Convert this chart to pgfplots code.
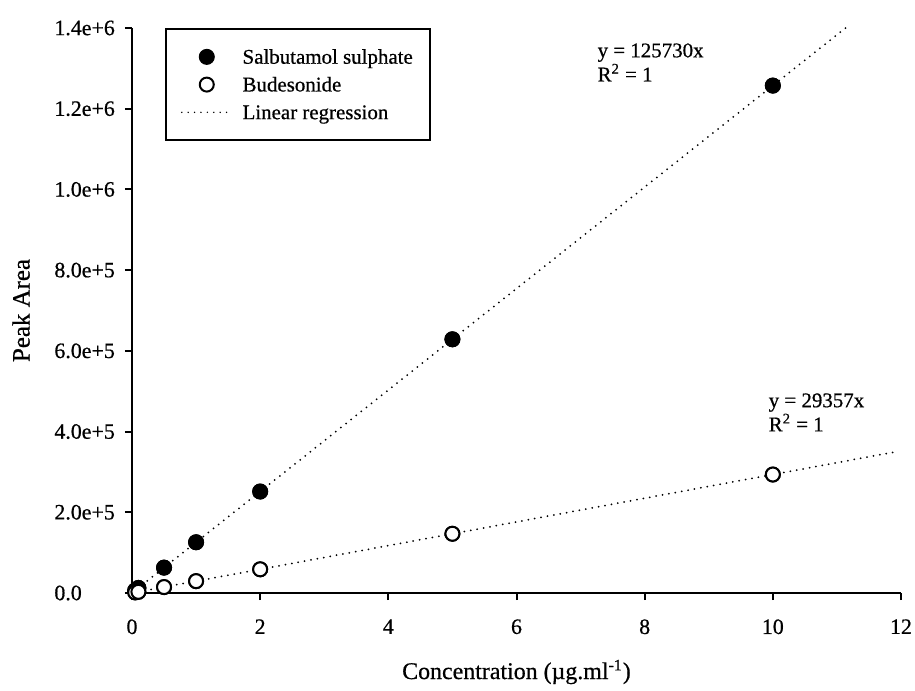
\documentclass[border=0pt]{standalone}
\usepackage{fontspec}
\setmainfont{Liberation Serif}[FakeBold=0.6]
\usepackage{pgfplots}
\pgfplotsset{compat=1.18}
\pgfplotsset{
  legmark/.style={legend image code/.code={\draw[##1] plot coordinates {(12.5bp,0bp)};}},
  legline/.style={legend image code/.code={\draw[##1] (0bp,0bp) -- (24bp,0bp);}},
}
\begin{document}
\begin{tikzpicture}
\useasboundingbox (-66bp,-49bp) rectangle (391.5bp,296.5bp);
\begin{axis}[
  scale only axis,
  width=384.5bp, height=282.5bp,
  xmin=0, xmax=12, ymin=0, ymax=1.4e6,
  clip=false,
  axis lines*=left,
  axis line style={-, line width=1bp, black},
  tick style={line width=1bp, black},
  major tick length=3.5bp,
  tick align=outside,
  xtick pos=bottom, ytick pos=left,
  xtick={0,2,4,6,8,10,12},
  ytick={0,200000,400000,600000,800000,1000000,1200000,1400000},
  yticklabels={0.0,2.0e+5,4.0e+5,6.0e+5,8.0e+5,1.0e+6,1.2e+6,1.4e+6},
  scaled y ticks=false,
  /pgf/number format/assume math mode=true,
  ticklabel style={font=\fontsize{11}{13}\selectfont},
  yticklabel style={anchor=west, inner sep=0pt, xshift=-35.5bp},
  xticklabel style={inner sep=0pt, yshift=-9.5bp},
  xlabel={Concentration (µg.ml\textsuperscript{-1})},
  ylabel={Peak Area},
  xlabel style={font=\fontsize{12}{14}\selectfont, at={(axis description cs:0.5,0)}, anchor=center, yshift=-39.5bp},
  ylabel style={font=\fontsize{12.5}{14}\selectfont, at={(axis description cs:-0.1443,0.5)}, anchor=center},
  legend style={at={(0.0429,1.0)}, anchor=north west, draw=black, line width=1bp,
    font=\fontsize{10.5}{12}\selectfont, inner xsep=7.5bp, inner ysep=8bp, row sep=2bp,
    column sep=5bp, nodes={inner sep=1bp},
    cells={anchor=west}},
  legend cell align=left,
  regline/.style={line width=1bp, line cap=round, dash pattern=on 0pt off 3.25bp, black},
]
\addplot[only marks, mark=*, mark size=3.75bp, mark options={fill=black, draw=black, line width=0.5bp}, legmark]
  coordinates {(0.05,6287) (0.1,12573) (0.5,62865) (1,125730) (2,251460) (5,628650) (10,1257300)};
\addlegendentry{\strut Salbutamol sulphate}
\addplot[only marks, mark=*, mark size=3.5bp, mark options={draw=black, fill=white, line width=1bp}, legmark]
  coordinates {(0.05,1468) (0.1,2936) (0.5,14679) (1,29357) (2,58714) (5,146785) (10,293570)};
\addlegendentry{\strut Budesonide}
\addlegendimage{line width=0.8bp, line cap=round, dash pattern=on 0pt off 3.2bp, black, legline}
\addlegendentry{\strut Linear regression}
\addplot[regline, forget plot] coordinates {(0,0) (11.135,1400000)};
\addplot[regline, forget plot] coordinates {(0,0) (11.95,350800)};
\node[anchor=north west, inner sep=0pt, align=left, font=\fontsize{10.5}{11}\selectfont]
  at (axis cs:7.26,1362800) {y = 125730x\\R\textsuperscript{2} = 1};
\node[anchor=north west, inner sep=0pt, align=left, font=\fontsize{10.5}{11}\selectfont]
  at (axis cs:9.93,495600) {y = 29357x\\R\textsuperscript{2} = 1};
\addplot[only marks, mark=*, mark size=3.75bp, mark options={fill=black, draw=black, line width=0.5bp}, forget plot]
  coordinates {(0.05,6287) (0.1,12573) (0.5,62865) (1,125730) (2,251460) (5,628650) (10,1257300)};
\addplot[only marks, mark=*, mark size=3.5bp, mark options={draw=black, fill=white, line width=1bp}, forget plot]
  coordinates {(0.05,1468) (0.1,2936) (0.5,14679) (1,29357) (2,58714) (5,146785) (10,293570)};
\end{axis}
\end{tikzpicture}
\end{document}
